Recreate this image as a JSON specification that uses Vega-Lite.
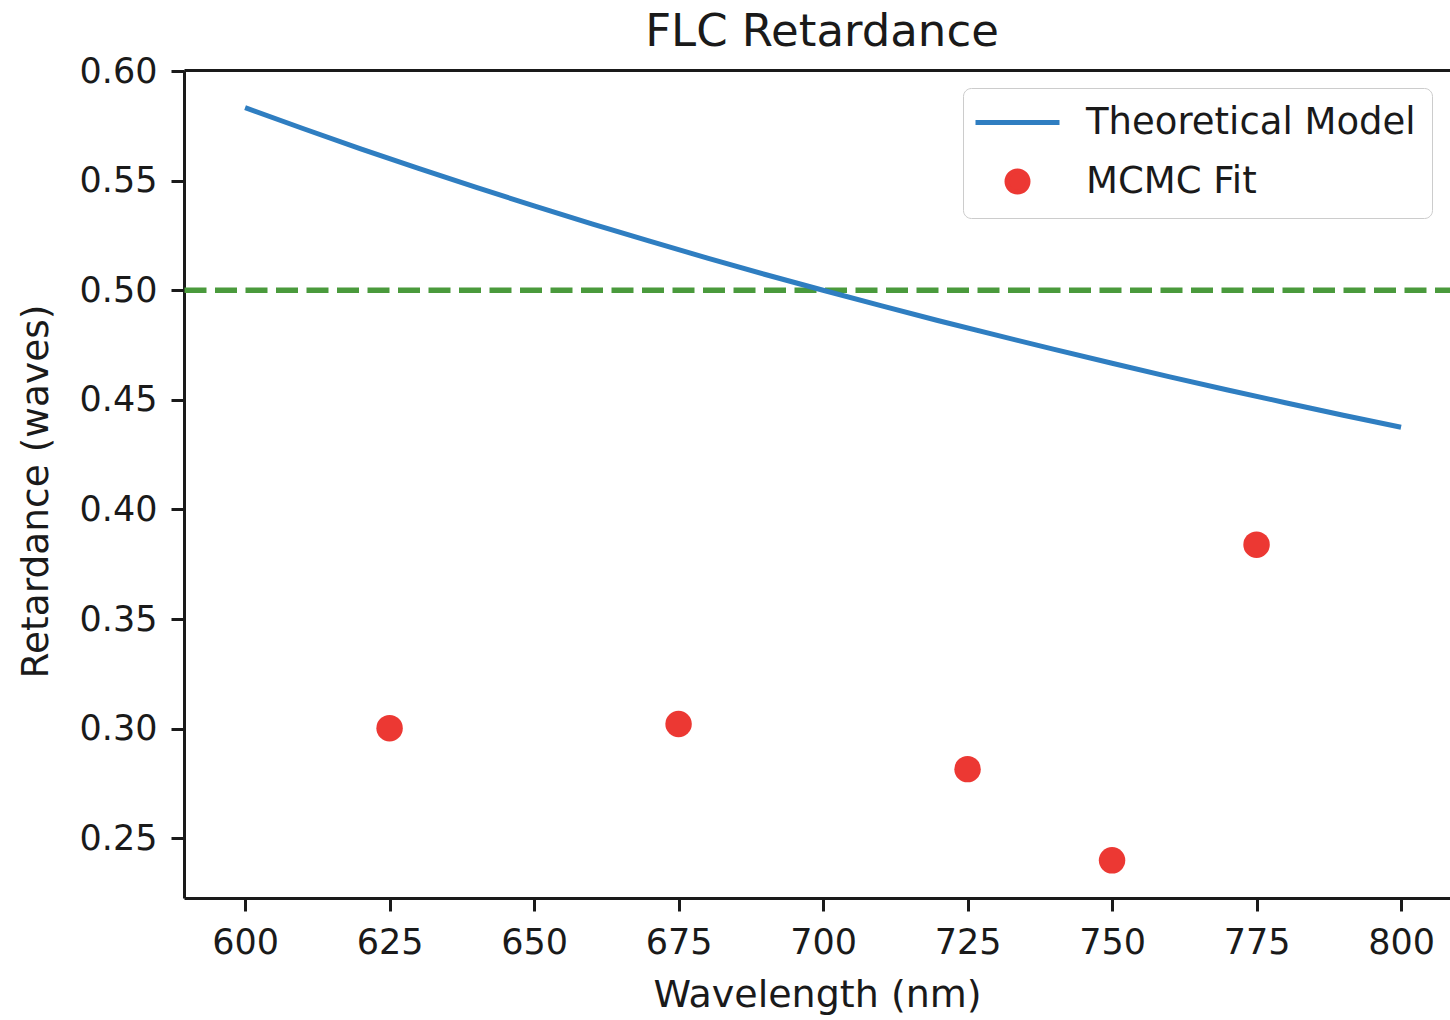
{
  "$schema": "https://vega.github.io/schema/vega-lite/v6.json",
  "width": 1266,
  "height": 828,
  "autosize": {"type": "none"},
  "padding": {"left": 184, "top": 70, "right": 0, "bottom": 122},
  "background": "white",
  "config": {
    "view": {"stroke": null},
    "font": "DejaVu Sans",
    "axis": {
      "labelFont": "DejaVu Sans",
      "labelFontSize": 35,
      "labelColor": "#1a1a1a",
      "titleFont": "DejaVu Sans",
      "titleFontSize": 37.5,
      "titleFontWeight": "normal",
      "titleColor": "#1a1a1a",
      "domainColor": "#1a1a1a",
      "domainWidth": 3,
      "tickColor": "#1a1a1a",
      "tickWidth": 3,
      "tickSize": 13,
      "grid": false
    }
  },
  "title": {
    "text": "FLC Retardance",
    "font": "DejaVu Sans",
    "fontSize": 45,
    "fontWeight": "normal",
    "color": "#1a1a1a",
    "anchor": "middle",
    "offset": -1,
    "dx": 5
  },
  "datasets": {
    "model": [
      {"wavelength": 600, "retardance": 0.5833, "series": "Theoretical Model"},
      {"wavelength": 610, "retardance": 0.5738, "series": "Theoretical Model"},
      {"wavelength": 620, "retardance": 0.5645, "series": "Theoretical Model"},
      {"wavelength": 630, "retardance": 0.5556, "series": "Theoretical Model"},
      {"wavelength": 640, "retardance": 0.5469, "series": "Theoretical Model"},
      {"wavelength": 650, "retardance": 0.5385, "series": "Theoretical Model"},
      {"wavelength": 660, "retardance": 0.5303, "series": "Theoretical Model"},
      {"wavelength": 670, "retardance": 0.5224, "series": "Theoretical Model"},
      {"wavelength": 680, "retardance": 0.5147, "series": "Theoretical Model"},
      {"wavelength": 690, "retardance": 0.5072, "series": "Theoretical Model"},
      {"wavelength": 700, "retardance": 0.5000, "series": "Theoretical Model"},
      {"wavelength": 710, "retardance": 0.4930, "series": "Theoretical Model"},
      {"wavelength": 720, "retardance": 0.4861, "series": "Theoretical Model"},
      {"wavelength": 730, "retardance": 0.4795, "series": "Theoretical Model"},
      {"wavelength": 740, "retardance": 0.4730, "series": "Theoretical Model"},
      {"wavelength": 750, "retardance": 0.4667, "series": "Theoretical Model"},
      {"wavelength": 760, "retardance": 0.4605, "series": "Theoretical Model"},
      {"wavelength": 770, "retardance": 0.4545, "series": "Theoretical Model"},
      {"wavelength": 780, "retardance": 0.4487, "series": "Theoretical Model"},
      {"wavelength": 790, "retardance": 0.4430, "series": "Theoretical Model"},
      {"wavelength": 800, "retardance": 0.4375, "series": "Theoretical Model"}
    ],
    "fit": [
      {"wavelength": 625, "retardance": 0.3002, "series": "MCMC Fit"},
      {"wavelength": 675, "retardance": 0.3021, "series": "MCMC Fit"},
      {"wavelength": 725, "retardance": 0.2815, "series": "MCMC Fit"},
      {"wavelength": 750, "retardance": 0.2399, "series": "MCMC Fit"},
      {"wavelength": 775, "retardance": 0.3839, "series": "MCMC Fit"}
    ],
    "halfwave": [
      {"retardance": 0.5}
    ]
  },
  "layer": [
    {
      "data": {"name": "halfwave"},
      "mark": {"type": "rule", "color": "#4a9a3c", "strokeWidth": 5.5, "strokeDash": [22, 8.5], "strokeDashOffset": 7},
      "encoding": {
        "y": {"field": "retardance", "type": "quantitative", "scale": {"domain": [0.2227, 0.6005], "nice": false, "zero": false}}
      }
    },
    {
      "data": {"name": "model"},
      "mark": {"type": "line", "strokeWidth": 5, "clip": true},
      "encoding": {
        "x": {
          "field": "wavelength", "type": "quantitative",
          "scale": {"domain": [589.43, 808.47], "nice": false, "zero": false},
          "axis": {"orient": "bottom", "values": [600, 625, 650, 675, 700, 725, 750, 775, 800], "format": "d", "labelPadding": 14, "title": "Wavelength (nm)", "titleFontSize": 38, "titlePadding": 16}
        },
        "y": {
          "field": "retardance", "type": "quantitative",
          "scale": {"domain": [0.2227, 0.6005], "nice": false, "zero": false},
          "axis": {"values": [0.25, 0.3, 0.35, 0.4, 0.45, 0.5, 0.55, 0.6], "format": ".2f", "labelPadding": 14, "title": "Retardance (waves)", "titlePadding": 24, "titleY": 421}
        },
        "color": {
          "field": "series", "type": "nominal",
          "scale": {"domain": ["Theoretical Model", "MCMC Fit"], "range": ["#2f7ec1", "#ec3833"]},
          "legend": {
            "title": null,
            "orient": "none",
            "legendX": 779,
            "legendY": 18,
            "labelFont": "DejaVu Sans",
            "labelFontSize": 37,
            "labelColor": "#1a1a1a",
            "labelLimit": 600,
            "labelOffset": 50,
            "symbolOffset": 20,
            "symbolSize": 441,
            "symbolStrokeWidth": 5,
            "rowPadding": 20,
            "padding": 16,
            "strokeColor": "#cccccc",
            "fillColor": "rgba(255,255,255,0.8)",
            "cornerRadius": 8,
            "encode": {
              "symbols": {
                "update": {
                  "fill": {"scale": "color", "field": "value"},
                  "stroke": {"scale": "color", "field": "value"},
                  "opacity": {"value": 1},
                  "size": {"value": 441}
                }
              }
            }
          }
        }
      }
    },
    {
      "data": {"name": "fit"},
      "mark": {"type": "point", "filled": true, "size": 700, "opacity": 1},
      "encoding": {
        "x": {
          "field": "wavelength", "type": "quantitative",
          "scale": {"domain": [589.43, 808.47], "nice": false, "zero": false},
          "axis": {"orient": "top", "labels": false, "ticks": false, "title": null}
        },
        "y": {
          "field": "retardance", "type": "quantitative",
          "scale": {"domain": [0.2227, 0.6005], "nice": false, "zero": false}
        },
        "color": {"field": "series", "type": "nominal"},
        "shape": {
          "field": "series", "type": "nominal",
          "scale": {"domain": ["Theoretical Model", "MCMC Fit"], "range": ["M-4,0H4", "circle"]}
        }
      }
    }
  ],
  "resolve": {"axis": {"x": "independent"}}
}
